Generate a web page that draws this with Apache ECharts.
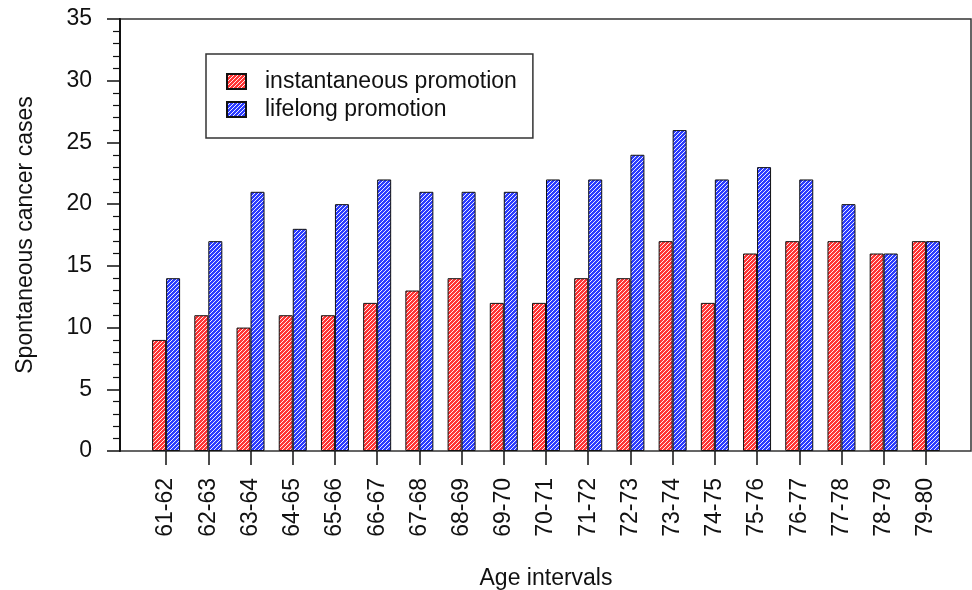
<!DOCTYPE html>
<html>
<head>
<meta charset="utf-8">
<script src="https://cdn.jsdelivr.net/npm/echarts@6/dist/echarts.min.js"></script>
<style>
html,body{margin:0;padding:0;background:#fff;}
#c{width:972px;height:590px;}
</style>
</head>
<body>
<div id="c"></div>
<script>
const categories = ['61-62','62-63','63-64','64-65','65-66','66-67','67-68','68-69','69-70','70-71','71-72','72-73','73-74','74-75','75-76','76-77','77-78','78-79','79-80'];
const instantaneous = [9,11,10,11,11,12,13,14,12,12,14,14,17,12,16,17,17,16,17];
const lifelong = [14,17,21,18,20,22,21,21,21,22,22,24,26,22,23,22,20,16,17];
const yTicks = [0,5,10,15,20,25,30,35];

function hatch(base) {
  const s = 4;
  const c = document.createElement('canvas');
  c.width = s; c.height = s;
  const g = c.getContext('2d');
  g.fillStyle = base;
  g.fillRect(0,0,s,s);
  g.strokeStyle = 'rgba(255,255,255,0.9)';
  g.lineWidth = 1;
  g.beginPath();
  g.moveTo(-1, s+1); g.lineTo(s+1, -1);
  g.moveTo(-1, 1); g.lineTo(1, -1);
  g.moveTo(s-1, s+1); g.lineTo(s+1, s-1);
  g.stroke();
  return {image: c, repeat: 'repeat'};
}

const font = '"Liberation Sans", Arial, Helvetica, sans-serif';
const FS = 23;
const chart = echarts.init(document.getElementById('c'), null, {renderer: 'canvas'});
chart.setOption({
  animation: false,
  backgroundColor: '#fff',
  textStyle: {fontFamily: font},
  legend: {
    orient: 'vertical',
    left: 206, top: 54,
    padding: [16, 16, 17, 20],
    borderColor: '#333', borderWidth: 1.5,
    icon: 'rect',
    itemWidth: 19, itemHeight: 15,
    itemGap: 5,
    textStyle: {fontSize: FS, color: '#111', fontFamily: font, padding: [0,0,0,14]},
    data: ['instantaneous promotion', 'lifelong promotion']
  },
  grid: [
    {left: 145, width: 802, top: 19, height: 432, show: false, outerBoundsMode: 'none', containLabel: false},
    {left: 120, width: 851, top: 19, height: 432, show: true, borderColor: '#333', borderWidth: 1.5, backgroundColor: 'transparent', outerBoundsMode: 'none', containLabel: false}
  ],
  xAxis: [
    {
      gridIndex: 0, type: 'category', data: categories,
      axisLine: {show: false},
      axisTick: {show: true, alignWithLabel: true, length: 14, lineStyle: {color: '#111', width: 1.5}},
      axisLabel: {rotate: 90, fontSize: FS, color: '#111', margin: 27, fontFamily: font},
      name: 'Age intervals', nameLocation: 'middle', nameGap: 116,
      nameTextStyle: {fontSize: FS, color: '#111', fontFamily: font}
    },
    {
      gridIndex: 1, type: 'value', min: 0, max: 1,
      axisLine: {show: false}, axisTick: {show: false}, axisLabel: {show: false}, splitLine: {show: false}
    }
  ],
  yAxis: [
    {gridIndex: 0, type: 'value', min: 0, max: 35, interval: 5, show: false, splitLine: {show: false}},
    {
      gridIndex: 1, type: 'value', min: 0, max: 35, interval: 5,
      axisLine: {show: true, lineStyle: {color: '#111', width: 2}},
      axisTick: {show: true, length: 13, lineStyle: {color: '#111', width: 1.5}},
      minorTick: {show: true, splitNumber: 5, length: 7, lineStyle: {color: '#111', width: 1.2}},
      axisLabel: {fontSize: FS, color: '#111', margin: 28, fontFamily: font,
        formatter: v => (yTicks.indexOf(v) >= 0 ? String(v) : '')},
      splitLine: {show: false},
      name: 'Spontaneous cancer cases', nameLocation: 'middle', nameGap: 83, nameRotate: 90,
      nameTextStyle: {fontSize: FS, color: '#111', fontFamily: font}
    }
  ],
  series: [
    {
      name: 'instantaneous promotion', type: 'bar', xAxisIndex: 0, yAxisIndex: 0,
      data: instantaneous, barWidth: 14, barGap: '0%',
      itemStyle: {color: hatch('#ff3535'), borderColor: '#111', borderWidth: 1}
    },
    {
      name: 'lifelong promotion', type: 'bar', xAxisIndex: 0, yAxisIndex: 0,
      data: lifelong, barWidth: 14, barGap: '0%',
      itemStyle: {color: hatch('#2c3cff'), borderColor: '#111', borderWidth: 1}
    }
  ]
});
</script>
</body>
</html>
